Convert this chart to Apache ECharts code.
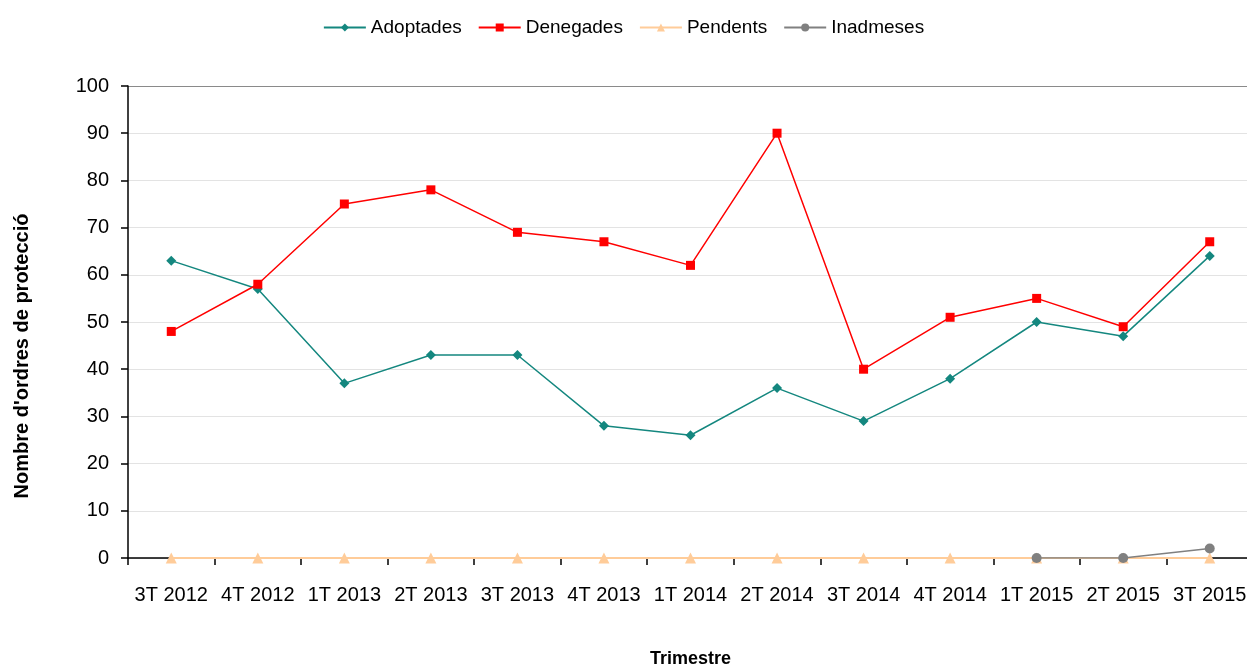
<!DOCTYPE html>
<html>
<head>
<meta charset="utf-8">
<script src="https://cdn.jsdelivr.net/npm/echarts@6/dist/echarts.min.js"></script>
<style>
  html, body { margin: 0; padding: 0; background: #fff; }
  #chart { width: 1247px; height: 666px; }
</style>
</head>
<body>
<div id="chart"></div>
<script>
// trimestres
var categories = ['3T 2012', '4T 2012', '1T 2013', '2T 2013', '3T 2013', '4T 2013', '1T 2014',
  '2T 2014', '3T 2014', '4T 2014', '1T 2015', '2T 2015', '3T 2015']
var adoptades = [63, 57, 37, 43, 43, 28, 26, 36, 29, 38, 50, 47, 64]
var denegades = [48, 58, 75, 78, 69, 67, 62, 90, 40, 51, 55, 49, 67]
var pendents = [0, 0, 0, 0, 0, 0, 0, 0, 0, 0, 0, 0, 0]
var inadmeses = [null, null, null, null, null, null, null, null, null, null, 0, 0, 2]

var FONT = "'Liberation Sans', Arial, sans-serif"
var splitColors = ['#e3e3e3', '#e3e3e3', '#e3e3e3', '#e3e3e3', '#e3e3e3', '#e3e3e3',
  '#e3e3e3', '#e3e3e3', '#e3e3e3', '#e3e3e3', '#8a8a8a']

var chart = echarts.init(document.getElementById('chart'))

chart.setOption({
  animation: false,
  textStyle: { fontFamily: FONT },
  legend: {
    top: 13,
    left: 'center',
    itemWidth: 42,
    itemHeight: 10,
    itemGap: 16,
    textStyle: { fontFamily: FONT, fontSize: 19, color: '#000' },
    data: ['Adoptades', 'Denegades', 'Pendents', 'Inadmeses']
  },
  grid: { left: 128, right: -6, top: 86, bottom: 108, outerBoundsMode: 'none' },
  xAxis: {
    type: 'category',
    data: categories,
    boundaryGap: true,
    name: 'Trimestre',
    nameLocation: 'middle',
    nameGap: 92,
    nameTextStyle: { fontFamily: FONT, fontSize: 18, fontWeight: 'bold', color: '#000' },
    axisLine: { lineStyle: { color: '#000', width: 1.5 } },
    axisTick: { show: true, length: 7, interval: 0, lineStyle: { color: '#000', width: 1.5 } },
    axisLabel: { fontFamily: FONT, fontSize: 20, color: '#000', margin: 27, interval: 0 }
  },
  yAxis: {
    type: 'value',
    min: 0,
    max: 100,
    interval: 10,
    name: "Nombre d'ordres de protecció",
    nameLocation: 'middle',
    nameGap: 96,
    nameTextStyle: {
      fontFamily: FONT, fontSize: 20, fontWeight: 'bold', color: '#000',
      padding: [0, 68, 0, 0]
    },
    axisLine: { show: true, lineStyle: { color: '#000', width: 1.5 } },
    axisTick: { show: true, length: 7, lineStyle: { color: '#000', width: 1.5 } },
    axisLabel: { fontFamily: FONT, fontSize: 20, color: '#000', margin: 19 },
    splitLine: { show: true, lineStyle: { color: splitColors, width: 1 } }
  },
  series: [
    {
      name: 'Adoptades',
      type: 'line',
      data: adoptades,
      symbol: 'diamond',
      symbolSize: 10,
      itemStyle: { color: '#14877f' },
      lineStyle: { color: '#14877f', width: 1.5 }
    },
    {
      name: 'Denegades',
      type: 'line',
      data: denegades,
      symbol: 'rect',
      symbolSize: 9,
      itemStyle: { color: '#ff0000' },
      lineStyle: { color: '#ff0000', width: 1.5 }
    },
    {
      name: 'Pendents',
      type: 'line',
      data: pendents,
      symbol: 'triangle',
      symbolSize: 11,
      itemStyle: { color: '#ffcc99' },
      lineStyle: { color: '#ffcc99', width: 2 }
    },
    {
      name: 'Inadmeses',
      type: 'line',
      data: inadmeses,
      symbol: 'circle',
      symbolSize: 10,
      itemStyle: { color: '#808080' },
      lineStyle: { color: '#808080', width: 1.5 }
    }
  ]
})
</script>
</body>
</html>
